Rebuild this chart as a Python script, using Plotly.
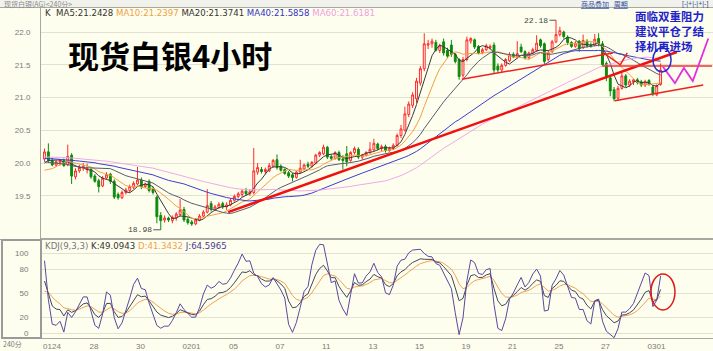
import plotly.graph_objects as go
import pandas as pd

# ---------------- data ----------------
opens = [20.06,20.17,20.04,19.97,20.01,20.04,19.97,20.12,19.79,19.88,
         19.92,19.90,19.90,19.80,19.73,19.65,19.77,19.83,19.72,19.52,
         19.47,19.55,19.58,19.63,19.68,19.74,19.64,19.72,19.60,19.48,
         19.20,19.13,19.16,19.12,19.16,19.21,19.29,19.14,19.10,19.07,
         19.13,19.19,19.25,19.38,19.29,19.32,19.38,19.33,19.36,19.43,
         19.49,19.52,19.57,19.53,19.55,19.86,19.90,19.87,19.88,19.95,
         20.05,19.95,19.90,19.85,19.82,19.78,19.86,19.91,19.98,19.95,
         20.00,20.12,20.14,20.24,20.10,20.07,20.16,20.06,20.14,20.04,
         20.16,20.21,20.09,20.12,20.16,20.20,20.29,20.22,20.25,20.19,
         20.22,20.27,20.42,20.50,20.74,20.88,20.98,21.22,21.44,21.80,
         21.82,21.84,21.72,21.85,21.72,21.80,21.66,21.58,21.34,21.58,
         21.86,21.88,21.78,21.69,21.73,21.76,21.80,21.48,21.42,21.49,
         21.56,21.66,21.62,21.77,21.70,21.61,21.68,21.72,21.88,21.82,
         21.58,21.70,21.85,21.96,22.00,21.92,21.84,21.78,21.86,21.76,
         21.86,21.80,21.80,21.90,21.82,21.52,21.30,21.12,20.99,21.14,
         21.33,21.19,21.24,21.27,21.24,21.19,21.26,21.16,21.04,21.20]
highs = [20.22,20.30,20.08,20.04,20.06,20.07,20.28,20.15,19.92,19.97,
         20.00,19.99,19.92,19.83,19.76,19.80,19.86,19.85,19.75,19.55,
         19.58,19.62,19.67,19.72,19.94,19.78,19.70,19.75,19.63,19.50,
         19.25,19.20,19.18,19.20,19.25,19.45,19.33,19.17,19.13,19.16,
         19.22,19.28,19.60,19.42,19.36,19.40,19.41,19.40,19.46,19.52,
         19.56,19.60,19.62,19.60,20.23,20.00,19.94,19.93,20.00,20.06,
         20.13,19.98,19.92,19.88,19.85,19.88,20.05,19.99,20.02,20.03,
         20.14,20.18,20.28,20.26,20.13,20.18,20.19,20.12,20.26,20.18,
         20.25,20.24,20.14,20.18,20.32,20.37,20.31,20.28,20.28,20.25,
         20.30,20.45,20.58,20.86,20.94,21.08,21.30,21.48,21.98,21.88,
         21.90,21.88,21.82,21.90,21.76,21.88,21.68,21.60,21.62,21.93,
         21.92,21.90,21.80,21.76,21.82,21.81,21.84,21.52,21.52,21.60,
         21.69,21.69,21.86,21.82,21.72,21.70,21.76,21.95,21.90,21.84,
         21.72,21.88,22.18,22.08,22.02,21.95,21.86,21.86,21.88,21.96,
         21.89,21.84,21.97,21.98,21.86,21.55,21.33,21.16,21.18,21.38,
         21.36,21.28,21.29,21.30,21.27,21.27,21.28,21.19,21.20,21.52]
lows = [20.02,20.00,19.95,19.94,19.96,19.94,19.95,19.68,19.75,19.85,
        19.88,19.84,19.76,19.70,19.55,19.63,19.75,19.68,19.45,19.44,
        19.45,19.52,19.55,19.60,19.66,19.60,19.62,19.55,19.52,19.08,
        18.98,19.09,19.10,19.08,19.12,19.18,19.10,19.06,19.04,19.05,
        19.11,19.17,19.23,19.26,19.27,19.30,19.30,19.28,19.34,19.41,
        19.46,19.48,19.50,19.50,19.52,19.82,19.84,19.83,19.86,19.93,
        19.90,19.87,19.82,19.77,19.72,19.76,19.84,19.89,19.92,19.93,
        19.98,20.09,20.12,20.06,20.04,20.05,20.03,19.90,19.95,20.02,
        20.13,20.06,20.05,20.10,20.14,20.18,20.19,20.18,20.16,20.17,
        20.20,20.25,20.38,20.48,20.70,20.84,20.92,21.18,21.40,21.74,
        21.76,21.70,21.68,21.64,21.60,21.62,21.52,21.27,21.30,21.55,
        21.82,21.74,21.66,21.66,21.71,21.73,21.37,21.38,21.38,21.47,
        21.54,21.60,21.60,21.68,21.58,21.58,21.66,21.70,21.76,21.50,
        21.55,21.68,21.83,21.93,21.90,21.80,21.76,21.76,21.70,21.74,
        21.76,21.76,21.78,21.78,21.47,21.25,21.02,20.94,20.96,21.12,
        21.16,21.16,21.19,21.20,21.16,21.16,21.18,21.02,21.02,21.18]
closes = [20.17,20.04,19.97,20.02,20.04,19.96,20.10,19.80,19.88,19.93,
          19.95,19.92,19.79,19.72,19.64,19.77,19.82,19.72,19.48,19.47,
          19.55,19.59,19.64,19.69,19.74,19.64,19.68,19.58,19.55,19.18,
          19.12,19.16,19.13,19.17,19.22,19.28,19.13,19.09,19.07,19.13,
          19.19,19.25,19.35,19.29,19.33,19.37,19.33,19.36,19.43,19.49,
          19.53,19.57,19.53,19.56,19.88,19.93,19.87,19.90,19.96,20.04,
          19.93,19.89,19.84,19.80,19.78,19.86,19.92,19.97,19.95,20.01,
          20.12,20.16,20.24,20.09,20.07,20.16,20.05,20.04,20.02,20.16,
          20.22,20.09,20.12,20.16,20.21,20.30,20.22,20.25,20.19,20.22,
          20.27,20.42,20.52,20.75,20.90,21.04,21.25,21.44,21.82,21.82,
          21.86,21.72,21.79,21.68,21.63,21.66,21.55,21.32,21.58,21.88,
          21.90,21.77,21.68,21.73,21.79,21.78,21.42,21.42,21.49,21.58,
          21.65,21.62,21.67,21.70,21.60,21.68,21.73,21.83,21.79,21.55,
          21.68,21.85,21.96,22.02,21.93,21.84,21.78,21.83,21.74,21.87,
          21.79,21.78,21.89,21.82,21.50,21.30,21.10,20.98,21.14,21.33,
          21.19,21.25,21.27,21.23,21.19,21.24,21.20,21.06,21.18,21.42]

# closes before the visible window, estimated from where the MA lines start
closes_before_window = [
    20.05,20.10,20.18,20.22,20.15,20.08,20.12,20.20,20.25,20.18,
    20.10,20.05,20.12,20.16,20.10,20.08,20.14,20.18,20.12,20.06,
    20.10,20.15,20.22,20.28,20.20,20.14,20.08,20.12,20.18,20.15,
    20.10,20.05,20.12,20.18,20.10,20.04,20.08,20.12,20.10,20.05,
    20.10,20.15,20.20,20.18,20.12,20.16,20.22,20.14,20.10,20.08,
    19.95,19.82,19.72,19.70,19.71,19.85,19.95,20.00,20.03]
kdj_start_k, kdj_start_d = 60.0, 46.0

date_labels = ["0124", "28", "30", "0201", "05", "07", "11",
               "13", "15", "19", "21", "25", "27", "0301"]
date_start_bar = [0, 12, 24, 36, 48, 60, 72, 84, 96, 108, 120, 132, 144, 156]

ma_periods = [5, 10, 20, 40, 60]
ma_header_values = ["21.2428", "21.2397", "21.3741", "21.5858", "21.6181"]
kdj_header_values = ["49.0943", "41.3432", "64.5965"]

price_ticks = [22.0, 21.5, 21.0, 20.5, 20.0, 19.5]
kdj_ticks = [100, 80, 50, 20, 0]

# hand-drawn analysis marks (bar index, price)
main_trend_x, main_trend_y = [47.4, 163.2], [19.25, 21.695]
upper_sup_x, upper_sup_y = [107.7, 146.7], [21.28, 21.68]
lower_sup_x, lower_sup_y = [147.2, 170.0], [20.95, 21.19]
resist_x, resist_y = [144.1, 172.3], [21.48, 21.48]
arrow_x, arrow_y = [143.8, 148.6, 150.4], [21.70, 21.50, 21.68]
zigzag_x = [159.6, 162.7, 165.0, 167.3, 171.3]
zigzag_y = [21.47, 21.22, 21.45, 21.25, 21.90]
blue_ring_x, blue_ring_y = [157.0, 161.7], [21.39, 21.76]
red_ring_x, red_ring_y = [156.5, 162.7], [28.8, 73.8]

# ---------------- derived series ----------------
n = len(closes)
idx = list(range(n))
full = pd.Series(closes_before_window + closes)
mas = [full.rolling(p, min_periods=1).mean().iloc[-n:].tolist() for p in ma_periods]

cs = pd.Series(closes)
low9 = pd.Series(lows).rolling(9, min_periods=1).min()
high9 = pd.Series(highs).rolling(9, min_periods=1).max()
rsv = ((cs - low9) / (high9 - low9) * 100).fillna(50)
K, D = [], []
k, d = kdj_start_k, kdj_start_d
for r in rsv:
    k = 2 / 3 * k + r / 3
    d = 2 / 3 * d + k / 3
    K.append(k); D.append(d)
J = [3 * a - 2 * b for a, b in zip(K, D)]

# ---------------- styling ----------------
W, H = 713, 351
BG = "#FEFEEE"
GRID = "#E3E1CF"
AX = "#A8A8A0"
ma_colors = ["#3A3A3A", "#F0A040", "#5A5A70", "#3C3CD0", "#F0A8E8"]
k_col, d_col, j_col = "#404858", "#F0A050", "#5A48A0"
UP, DOWN = "#FF2A2A", "#0E8A0E"

def px_x(p):
    return p / W

def px_y(p):
    return 1 - p / H

plot_left = 41
bar0_px, bar_px = 44.5, 3.875
x_range = [(plot_left - bar0_px) / bar_px, (W - bar0_px) / bar_px]

fig = go.Figure()
fig.add_trace(go.Candlestick(
    x=idx, open=opens, high=highs, low=lows, close=closes,
    increasing=dict(line=dict(color=UP, width=1), fillcolor=BG),
    decreasing=dict(line=dict(color=DOWN, width=1), fillcolor=DOWN),
    whiskerwidth=0, showlegend=False, hoverinfo="skip", xaxis="x", yaxis="y"))
for s, c in zip(mas, ma_colors):
    fig.add_trace(go.Scatter(x=idx, y=s, mode="lines", line=dict(color=c, width=1),
                             showlegend=False, hoverinfo="skip", xaxis="x", yaxis="y"))
for s, c in [(D, d_col), (K, k_col), (J, j_col)]:
    fig.add_trace(go.Scatter(x=idx, y=s, mode="lines", line=dict(color=c, width=1),
                             showlegend=False, hoverinfo="skip", xaxis="x2", yaxis="y2"))

tick_font = dict(family="Liberation Sans, Arial", size=8, color="#7A7A7A")
fig.update_layout(
    width=W, height=H, margin=dict(l=0, r=0, t=0, b=0),
    paper_bgcolor=BG, plot_bgcolor=BG,
    xaxis=dict(domain=[px_x(plot_left), 1], range=x_range, anchor="y",
               showgrid=False, zeroline=False, showticklabels=False,
               showline=True, linecolor=AX, linewidth=1, rangeslider=dict(visible=False)),
    yaxis=dict(domain=[px_y(238), px_y(7.5)], range=[18.855, 22.374], anchor="x",
               tickvals=price_ticks, ticktext=[f"{v:.1f}" for v in price_ticks],
               tickfont=tick_font, ticklabelstandoff=8,
               showgrid=True, gridcolor=GRID, gridwidth=1, zeroline=False,
               showline=True, linecolor=AX, linewidth=1),
    xaxis2=dict(domain=[px_x(plot_left), 1], range=x_range, anchor="y2", matches="x",
                tickvals=[b - 0.5 for b in date_start_bar], ticktext=date_labels,
                ticklabelposition="outside right", tickfont=tick_font, ticks="",
                showgrid=False, zeroline=False, showline=True, linecolor=AX, linewidth=1),
    yaxis2=dict(domain=[px_y(338), px_y(240)], range=[-6.25, 116.25], anchor="x2",
                tickvals=kdj_ticks, ticktext=[str(v) for v in kdj_ticks],
                tickfont=tick_font, ticklabelstandoff=10,
                showgrid=True, gridcolor=GRID, gridwidth=1, zeroline=False,
                showline=True, linecolor=AX, linewidth=1),
)

shapes = []
shapes.append(dict(type="rect", xref="paper", yref="paper", x0=0, x1=1,
                   y0=px_y(7), y1=1, fillcolor="#F2F2EC", line=dict(width=0), layer="below"))
shapes.append(dict(type="line", xref="paper", yref="paper", x0=0, x1=1,
                   y0=px_y(7.5), y1=px_y(7.5), line=dict(color=AX, width=1)))
shapes.append(dict(type="line", xref="paper", yref="paper", x0=0, x1=1,
                   y0=px_y(239.5), y1=px_y(239.5), line=dict(color=AX, width=1)))
shapes.append(dict(type="rect", xref="paper", yref="paper", x0=px_x(2), x1=px_x(41),
                   y0=px_y(338), y1=px_y(240), line=dict(color="#9A9A9A", width=2)))

def seg(xs, ys, color, width, xr="x", yr="y"):
    path = "M" + " L".join(f"{a},{b}" for a, b in zip(xs, ys))
    return dict(type="path", path=path, xref=xr, yref=yr, line=dict(color=color, width=width))

shapes.append(seg(main_trend_x, main_trend_y, "#F01010", 2.5))
shapes.append(seg(upper_sup_x, upper_sup_y, "#F02020", 1.5))
shapes.append(seg(lower_sup_x, lower_sup_y, "#F02020", 1.5))
shapes.append(seg(resist_x, resist_y, "#F03030", 1.5))
shapes.append(seg(arrow_x, arrow_y, "#F02020", 1.5))
shapes.append(seg(zigzag_x, zigzag_y, "#E030E0", 1.8))
shapes.append(dict(type="circle", xref="x", yref="y", x0=blue_ring_x[0], x1=blue_ring_x[1],
                   y0=blue_ring_y[0], y1=blue_ring_y[1], line=dict(color="#2A2AD0", width=1.5)))
shapes.append(dict(type="circle", xref="x2", yref="y2", x0=red_ring_x[0], x1=red_ring_x[1],
                   y0=red_ring_y[0], y1=red_ring_y[1], line=dict(color="#E01818", width=1.5)))
fig.update_layout(shapes=shapes)

small = dict(family="DejaVu Sans, Verdana", size=8.6)
ma_names = [f"MA{p}" for p in ma_periods]
hdr = "<span style='color:#333'>K</span>  " + " ".join(
    f"<span style='color:{c}'>{nm}:{v}</span>" for nm, v, c in zip(ma_names, ma_header_values,
                                                                    ["#333", "#F0A040", "#333", "#3333C8", "#F0A0E0"]))
kdj_hdr = ("<span style='color:#777'>KDJ(9,3,3)</span> "
           f"<span style='color:#333'>K:{kdj_header_values[0]}</span> "
           f"<span style='color:#F0A050'>D:{kdj_header_values[1]}</span> "
           f"<span style='color:#4A3A90'>J:{kdj_header_values[2]}</span>")

ann = [
    dict(xref="paper", yref="paper", x=px_x(43), y=px_y(13.5), text=hdr, showarrow=False,
         xanchor="left", yanchor="middle", font=small),
    dict(xref="paper", yref="paper", x=px_x(43), y=px_y(245.5), text=kdj_hdr, showarrow=False,
         xanchor="left", yanchor="middle", font=small),
    dict(xref="paper", yref="paper", x=px_x(2), y=px_y(3.5), text="现货白银(AG)<240分>", showarrow=False,
         xanchor="left", yanchor="middle", font=dict(family="Noto Sans CJK SC", size=7, color="#8A8A8A")),
    dict(xref="paper", yref="paper", x=px_x(630), y=px_y(3.5),
         text="<u>商品叠加</u>   <u>周期</u>", showarrow=False,
         xanchor="right", yanchor="middle", font=dict(family="Noto Sans CJK SC", size=7, color="#3050A0")),
    dict(xref="paper", yref="paper", x=px_x(710), y=px_y(3.5), text="[-|+|-|+|-]", showarrow=False,
         xanchor="right", yanchor="middle", font=dict(family="Liberation Sans", size=7, color="#3050A0")),
    dict(xref="paper", yref="paper", x=px_x(1), y=px_y(344), text="240分", showarrow=False,
         xanchor="left", yanchor="middle", font=dict(family="Noto Sans CJK SC", size=7, color="#7A7A7A")),
    dict(xref="paper", yref="paper", x=px_x(66), y=px_y(55), text="<b>现货白银4小时</b>", showarrow=False,
         xanchor="left", yanchor="middle", font=dict(family="Noto Sans CJK SC", size=31, color="#000000")),
    dict(x=132, y=22.18, xref="x", yref="y", text="22.18", showarrow=True, arrowhead=0,
         arrowwidth=1, arrowcolor="#555", ax=-20, ay=0,
         font=dict(family="Liberation Mono", size=8, color="#444")),
    dict(x=30, y=18.98, xref="x", yref="y", text="18.98", showarrow=True, arrowhead=0,
         arrowwidth=1, arrowcolor="#555", ax=-21, ay=0,
         font=dict(family="Liberation Mono", size=8, color="#444")),
]
blue_lines = ["面临双重阻力", "建议平仓了结", "择机再进场"]
ann.append(dict(xref="paper", yref="paper", x=px_x(633), y=px_y(6),
                text="<br>".join(f"<b>{t}</b>" for t in blue_lines),
                showarrow=False, xanchor="left", yanchor="top", align="left",
                font=dict(family="Noto Sans CJK SC", size=11.5, color="#1E22C8")))
fig.update_layout(annotations=ann)

fig.write_html("out.html", config={"displayModeBar": False})
